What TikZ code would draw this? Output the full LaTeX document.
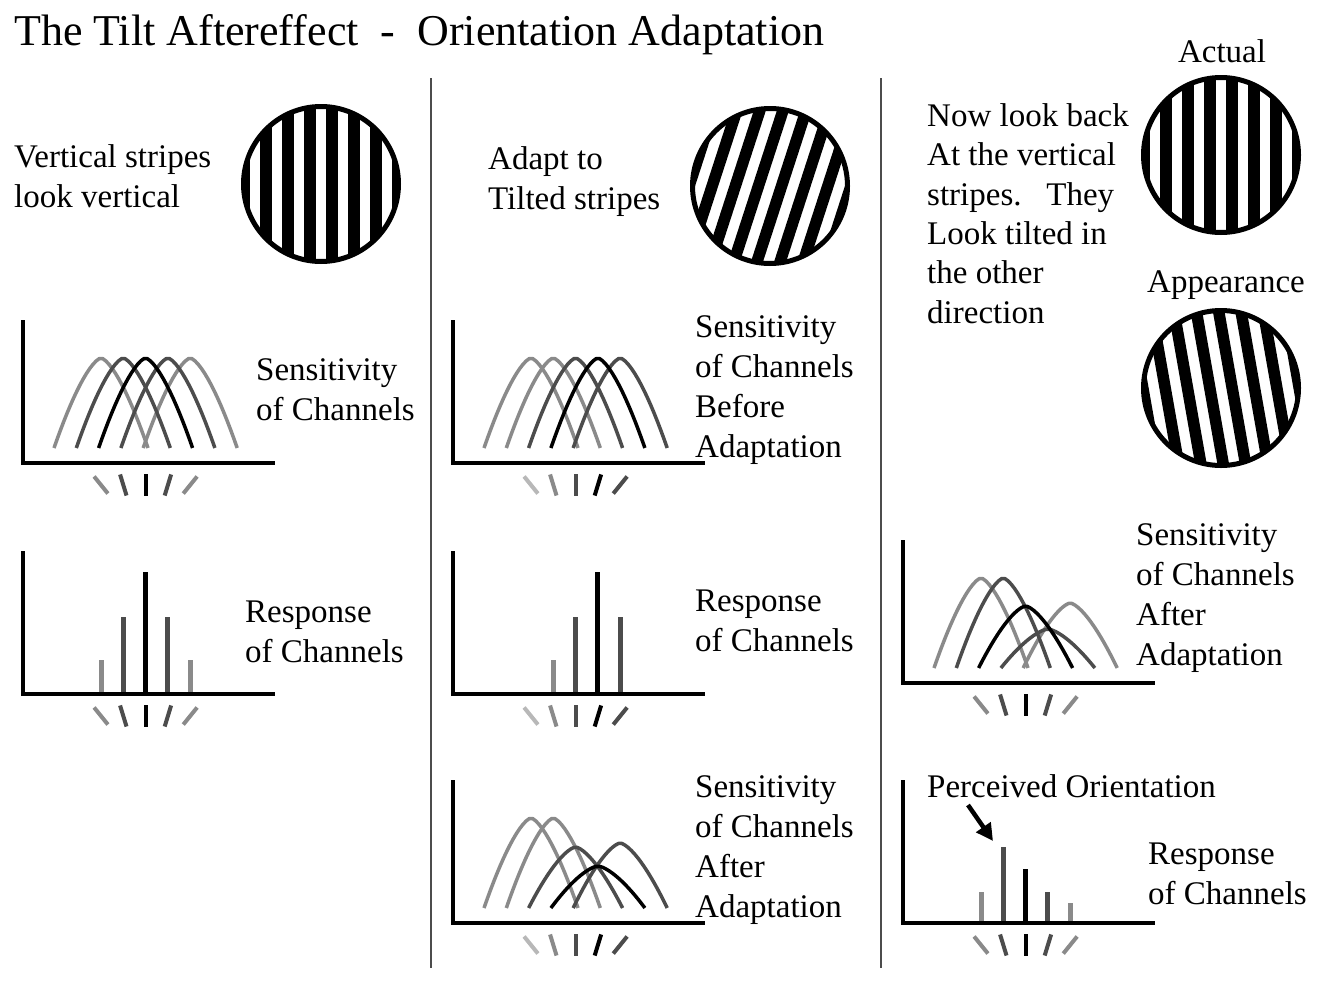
\documentclass[tikz,border=0pt]{standalone}
\usepackage{fontspec}
\setmainfont{Liberation Serif}
\usetikzlibrary{arrows.meta}

\definecolor{chpale}{gray}{0.72}
\definecolor{chlight}{gray}{0.54}
\definecolor{chdark}{gray}{0.30}

% multi-line texts sit on the baseline of their last line
\tikzset{
  txt/.style={anchor=base west, align=left, inner sep=0pt, font=\fontsize{33}{40}\selectfont},
  disc/.style={circle, draw, line width=5pt, minimum size=155pt, inner sep=0pt},
  axis/.style={line width=4pt, line join=miter},
  curve/.style={line width=3.5pt, line join=round},
  tick/.style={line width=4pt},
  bar/.style={line width=5pt},
  sep/.style={line width=2pt, black!70},
  pointer/.style={line width=4.5pt, -{Triangle[length=17pt,width=17pt]}}
}

% grating inside a disc node, #2 = tilt
\newcommand{\stripes}[2]{%
  \begin{scope}
    \clip (#1.center) circle (76);
    \begin{scope}[shift={(#1.center)}, rotate=#2]
      \foreach \k in {-77,-55,...,77}
        \draw[line width=11.5pt] (\k,-95) -- (\k,95);
    \end{scope}
  \end{scope}}

% sensitivity curves: origin x, origin y, list chan/height/colour
\newcommand{\senspanel}[3]{%
  \draw[axis] (#1,#2-143) -- (#1,#2) -- (#1+252,#2);
  \foreach \i/\h/\col in {#3}
    \draw[curve, color=\col] plot[domain=-1:1, samples=30]
      ({#1+78+22.3*(\i-1)+47*\x}, {#2-15-\h*(1-abs(\x)*sqrt(abs(\x)))});}

% response bars
\newcommand{\resppanel}[3]{%
  \draw[axis] (#1,#2-143) -- (#1,#2) -- (#1+252,#2);
  \foreach \i/\h/\col in {#3}
    \draw[bar, color=\col] ({#1+78+22.3*(\i-1)}, #2-2) -- ++(0,-\h+2);}

% orientation marks under the axis
\newcommand{\chanticks}[7]{%
  \foreach \i/\a/\col in {1/39/#3, 2/17/#4, 3/0/#5, 4/-17/#6, 5/-39/#7}
    \draw[tick, color=\col]
      ({#1+78+22.3*(\i-1)-11*sin(\a)}, {#2+22-11*cos(\a)}) --
      ({#1+78+22.3*(\i-1)+11*sin(\a)}, {#2+22+11*cos(\a)});}

\begin{document}
\begin{tikzpicture}[x=1pt, y=-1pt]
\useasboundingbox[fill=white] (0,0) rectangle (1320,991);

\node[txt, font=\fontsize{44}{50}\selectfont] (title) at (14,45)
  {The Tilt Aftereffect\ \ -\ \ Orientation Adaptation};

\draw[sep] (431,78) -- (431,968);
\draw[sep] (881,78) -- (881,968);

% first column
\node[txt] (vtext) at (14,207) {Vertical stripes\\look vertical};
\node[disc] (plain) at (321,184) {};
\stripes{plain}{0}

\senspanel{23}{463}{1/90/chlight, 5/90/chlight, 2/90/chdark, 4/90/chdark, 3/90/black}
\chanticks{23}{463}{chlight}{chdark}{black}{chdark}{chlight}
\node[txt] (sens1) at (256,420) {Sensitivity\\of Channels};

\resppanel{23}{694}{1/34/chlight, 2/77/chdark, 3/122/black, 4/77/chdark, 5/34/chlight}
\chanticks{23}{694}{chlight}{chdark}{black}{chdark}{chlight}
\node[txt] (resp1) at (245,662) {Response\\of Channels};

% second column
\node[txt] (atext) at (488,209) {Adapt to\\Tilted stripes};
\node[disc] (tilted) at (770,186) {};
\stripes{tilted}{-18}

\senspanel{453}{463}{1/90/chlight, 2/90/chlight, 3/90/chdark, 5/90/chdark, 4/90/black}
\chanticks{453}{463}{chpale}{chlight}{chdark}{black}{chdark}
\node[txt] (sens2) at (695,457) {Sensitivity\\of Channels\\Before\\Adaptation};

\resppanel{453}{694}{2/34/chlight, 3/77/chdark, 4/122/black, 5/77/chdark}
\chanticks{453}{694}{chpale}{chlight}{chdark}{black}{chdark}
\node[txt] (resp2) at (695,651) {Response\\of Channels};

\senspanel{453}{923}{1/90/chlight, 2/90/chlight, 3/61/chdark, 5/65/chdark, 4/42/black}
\chanticks{453}{923}{chpale}{chlight}{chdark}{black}{chdark}
\node[txt] (sens3) at (695,917) {Sensitivity\\of Channels\\After\\Adaptation};

% third column
\node[txt, font=\fontsize{33}{39.3}\selectfont] (ntext) at (927,323)
  {Now look back\\At the vertical\\stripes.\ \ \ They\\Look tilted in\\the other\\direction};
\node[txt, anchor=base] (actlabel) at (1222,62) {Actual};
\node[disc] (actual) at (1221,155) {};
\stripes{actual}{0}
\node[txt, anchor=base] (applabel) at (1226,292) {Appearance};
\node[disc] (appear) at (1221,388) {};
\stripes{appear}{10}

\senspanel{903}{683}{1/90/chlight, 5/65/chlight, 2/90/chdark, 4/39/chdark, 3/62/black}
\chanticks{903}{683}{chlight}{chdark}{black}{chdark}{chlight}
\node[txt] (sens4) at (1136,665) {Sensitivity\\of Channels\\After\\Adaptation};

\resppanel{903}{923}{1/31/chlight, 2/76/chdark, 3/54/black, 4/31/chdark, 5/20/chlight}
\chanticks{903}{923}{chlight}{chdark}{black}{chdark}{chlight}
\node[txt] (perc) at (927,797) {Perceived Orientation};
\node[txt] (resp4) at (1148,904) {Response\\of Channels};
\coordinate (arrtail) at (968,805);
\coordinate (arrtip) at (993,841);
\draw[pointer] (arrtail) -- (arrtip);
\end{tikzpicture}
\end{document}
